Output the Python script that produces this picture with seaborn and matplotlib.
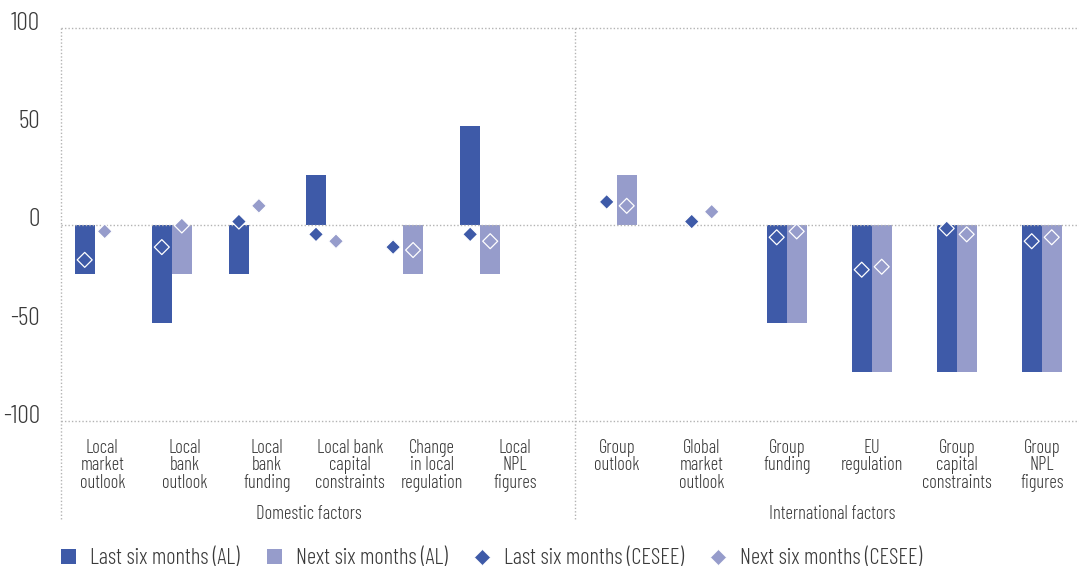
import numpy as np
import pandas as pd
import matplotlib
matplotlib.use("Agg")
import matplotlib.pyplot as plt
import seaborn as sns
from matplotlib.patches import Patch
from matplotlib.lines import Line2D
from matplotlib.transforms import ScaledTranslation

# ---------------- data ----------------
domestic_factors = ["Local\nmarket\noutlook", "Local\nbank\noutlook", "Local\nbank\nfunding",
                    "Local bank\ncapital\nconstraints", "Change\nin local\nregulation", "Local\nNPL\nfigures"]
international_factors = ["Group\noutlook", "Global\nmarket\noutlook", "Group\nfunding",
                         "EU\nregulation", "Group\ncapital\nconstraints", "Group\nNPL\nfigures"]

last_al_dom = [-25, -50, -25, 25, 0, 50]
next_al_dom = [0, -25, 0, 0, -25, -25]
last_cesee_dom = [-18, -11.5, 1.5, -5, -11.5, -5]
next_cesee_dom = [-3.5, -0.5, 9.5, -8.5, -13, -8.5]

last_al_int = [0, 0, -50, -75, -75, -75]
next_al_int = [25, 0, -50, -75, -75, -75]
last_cesee_int = [11.5, 1.5, -6.5, -23, -2, -8.5]
next_cesee_int = [9.5, 6.5, -3.5, -21.5, -5, -6.5]

y_ticks = [-100, -50, 0, 50, 100]
series_bar = ["Last six months (AL)", "Next six months (AL)"]
series_pt = ["Last six months (CESEE)", "Next six months (CESEE)"]
group_labels = ["Domestic factors", "International factors"]

# ---------------- style ----------------
sns.set_theme(style="white")
plt.rcParams["font.family"] = ["Barlow Condensed", "DejaVu Sans"]
plt.rcParams["font.weight"] = 300
DARK = "#3E5AA8"
LIGHT = "#969CCB"
TXT = "#3a3a3a"
GRID = "#b3b3b3"

W, H = 1079, 570
fig = plt.figure(figsize=(W / 100, H / 100), dpi=100)


def axrect(l, r, t, b):
    return [l / W, 1 - b / H, (r - l) / W, (b - t) / H]


ax1 = fig.add_axes(axrect(60.7, 575, 28, 421))
ax2 = fig.add_axes(axrect(575, 1079, 28, 421))


def draw(ax, cats, la, na, lc, nc, width, xlim, tick_pos):
    n = len(cats)
    pos = list(range(n))
    bars = pd.DataFrame({"pos": pos * 2, "value": la + na,
                         "series": [series_bar[0]] * n + [series_bar[1]] * n})
    sns.barplot(data=bars, x="pos", y="value", hue="series", hue_order=series_bar,
                palette=[DARK, LIGHT], native_scale=True, width=width, gap=0,
                dodge=True, linewidth=0, saturation=1, errorbar=None,
                legend=False, ax=ax)
    off = width / 4
    idx = np.arange(n)
    pts = pd.DataFrame({"x": np.concatenate([idx - off, idx + off]), "value": lc + nc,
                        "series": [series_pt[0]] * n + [series_pt[1]] * n})
    sns.scatterplot(data=pts, x="x", y="value", hue="series", hue_order=series_pt,
                    palette=[DARK, LIGHT], marker="D", s=58, edgecolor="white",
                    linewidth=0.9, legend=False, ax=ax, zorder=5)
    ax.set_xlim(*xlim)
    ax.set_ylim(-100, 100)
    for s in ax.spines.values():
        s.set_visible(False)
    for yv in (100, 0, -100):
        ax.axhline(yv, color=GRID, lw=1.0, ls=(0, (1, 1.5)), zorder=1, clip_on=False)
    ax.plot([0, 0], [1, -0.252], transform=ax.transAxes, color=GRID, lw=1.0,
            ls=(0, (1, 1.5)), clip_on=False, zorder=1)
    ax.set_xticks(tick_pos)
    ax.set_xticklabels(cats, fontsize=13.3, color=TXT, linespacing=0.95)
    ax.tick_params(axis="x", length=0, pad=13)
    ax.set_xlabel("")
    ax.set_ylabel("")


# domestic: bar centres 77.1 px apart starting at px 94.7; labels 82.5 px apart from px 102.3
dom_unit = 77.1
dom_xlim = ((60.7 - 94.7) / dom_unit, (575 - 94.7) / dom_unit)
dom_ticks = [(102.3 - 94.7) / dom_unit + i * 82.5 / dom_unit for i in range(6)]
draw(ax1, domestic_factors, last_al_dom, next_al_dom, last_cesee_dom, next_cesee_dom,
     40 / dom_unit, dom_xlim, dom_ticks)

int_unit = 85.0
int_xlim = ((575 - 616.7) / int_unit, (1079 - 616.7) / int_unit)
draw(ax2, international_factors, last_al_int, next_al_int, last_cesee_int, next_cesee_int,
     40 / int_unit, int_xlim, list(range(6)))

ax1.set_yticks(y_ticks)
ax1.set_yticklabels([str(v) for v in y_ticks], fontsize=18.5, color=TXT)
ax1.tick_params(axis="y", length=0, pad=15)
for lab in ax1.get_yticklabels():
    lab.set_transform(lab.get_transform() + ScaledTranslation(0, 7 / 100, fig.dpi_scale_trans))
ax2.set_yticks([])

fig.text(309 / W, 1 - 514 / H, group_labels[0], ha="center", va="center", fontsize=13.3, color=TXT)
fig.text(831.7 / W, 1 - 514 / H, group_labels[1], ha="center", va="center", fontsize=13.3, color=TXT)

handles = [Patch(facecolor=DARK, edgecolor="none"), Patch(facecolor=LIGHT, edgecolor="none"),
           Line2D([], [], marker="D", ls="none", color=DARK, markersize=8, markeredgecolor="white", markeredgewidth=0.5),
           Line2D([], [], marker="D", ls="none", color=LIGHT, markersize=8, markeredgecolor="white", markeredgewidth=0.5)]
fig.legend(handles, series_bar + series_pt, loc="center left",
           bbox_to_anchor=(61 / W, 1 - 559 / H), ncol=4, frameon=False,
           fontsize=16.3, labelcolor=TXT, handlelength=0.66, handleheight=0.66,
           handletextpad=0.62, columnspacing=1.2, borderpad=0, borderaxespad=0)

fig.savefig("out.png", dpi=100)
